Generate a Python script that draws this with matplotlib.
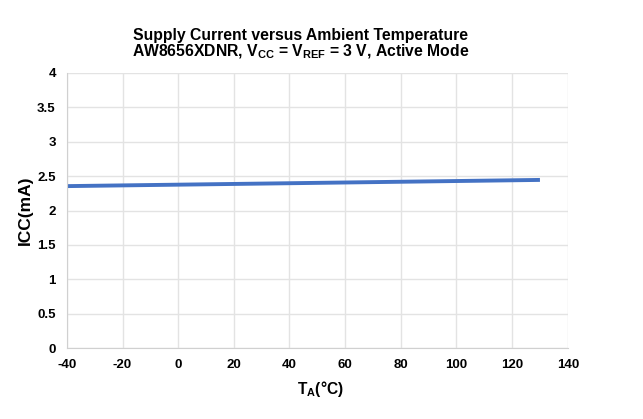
import matplotlib
matplotlib.use("Agg")
import matplotlib.pyplot as plt

plt.rcParams['font.family'] = ['Liberation Sans', 'DejaVu Sans']
plt.rcParams['mathtext.fontset'] = 'custom'
plt.rcParams['mathtext.rm'] = 'Liberation Sans:bold'
plt.rcParams['mathtext.bf'] = 'Liberation Sans:bold'
plt.rcParams['axes.unicode_minus'] = False

# data
temp_c = [-40, 0, 40, 85, 130]
icc_ma = [2.355, 2.376, 2.397, 2.421, 2.445]

x_ticks = [-40, -20, 0, 20, 40, 60, 80, 100, 120, 140]
y_ticks = [0, 0.5, 1, 1.5, 2, 2.5, 3, 3.5, 4]
y_labels = ['0', '0.5', '1', '1.5', '2', '2.5', '3', '3.5', '4']

fig = plt.figure(figsize=(6.43, 4.19), dpi=100)
ax = fig.add_axes([0.104, 0.169, 0.779, 0.657])

ax.plot(temp_c, icc_ma, color='#4472C4', linewidth=2.8, solid_capstyle='butt')

ax.set_xlim(-40, 140)
ax.set_ylim(0, 4)
ax.set_xticks(x_ticks)
ax.set_yticks(y_ticks)
ax.set_yticklabels(y_labels)
ax.grid(True, color='#E3E3E3', linewidth=1)
ax.set_axisbelow(True)
for s in ['top', 'right']:
    ax.spines[s].set_visible(False)
for s in ['left', 'bottom']:
    ax.spines[s].set_color('#D0D0D0')
ax.tick_params(length=0, labelsize=9.5, pad=8)
for lab in ax.get_xticklabels() + ax.get_yticklabels():
    lab.set_fontweight('bold')

ax.set_xlabel(r'T$_\mathregular{A}$(°C)', fontsize=11.2, fontweight='bold')
ax.xaxis.set_label_coords(0.507, -0.112)
ax.set_ylabel('ICC(mA)', fontsize=12.5, fontweight='bold', labelpad=3)

fig.text(0.468, 0.905, 'Supply Current versus Ambient Temperature',
         ha='center', fontsize=11.3, fontweight='bold')
fig.text(0.468, 0.865,
         r'AW8656XDNR, V$_\mathregular{CC}$ = V$_\mathregular{REF}$ = 3 V, Active Mode',
         ha='center', fontsize=11.3, fontweight='bold')

fig.savefig('out.png', dpi=100)
